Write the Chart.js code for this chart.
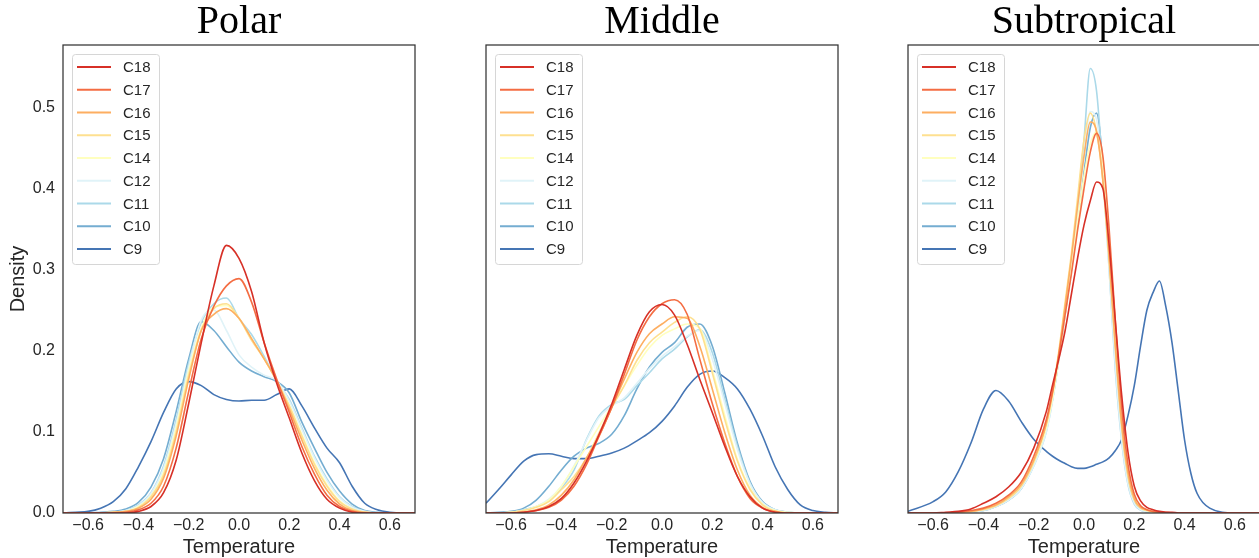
<!DOCTYPE html>
<html>
<head>
<meta charset="utf-8">
<script src="https://cdn.jsdelivr.net/npm/chart.js@4.4.1/dist/chart.umd.min.js"></script>
<style>
  html, body { margin: 0; padding: 0; background: #fff; overflow: hidden; width: 1259px; height: 558px; }
  .panel { position: absolute; top: 0; }
</style>
</head>
<body>
<canvas id="polar" class="panel" width="478" height="558" style="left:0px"></canvas>
<canvas id="middle" class="panel" width="452" height="558" style="left:436px"></canvas>
<canvas id="subtropical" class="panel" width="452" height="558" style="left:858px"></canvas>
<script>
// Series (legend order)
const seriesNames = ['C18', 'C17', 'C16', 'C15', 'C14', 'C12', 'C11', 'C10', 'C9'];
const seriesColors = ['#d73027', '#f46d43', '#fdae61', '#fee090', '#ffffbf', '#e0f3f8', '#abd9e9', '#74add1', '#4575b4'];

// Tick labels
const xTicks = [-0.6, -0.4, -0.2, 0.0, 0.2, 0.4, 0.6];
const yTicks = [0.0, 0.1, 0.2, 0.3, 0.4, 0.5];
const yMax = 0.577;

// Polar densities
const polarX = [-0.7,-0.65,-0.6,-0.55,-0.5,-0.45,-0.4,-0.35,-0.3,-0.25,-0.2,-0.15,-0.1,-0.05,0,0.05,0.1,0.15,0.2,0.25,0.3,0.35,0.4,0.45,0.5,0.55,0.6,0.65,0.7];
const polarVals = [
    [0,0,0,0,0,0,0.002,0.008,0.025,0.065,0.135,0.21,0.28,0.33,0.314,0.273,0.21,0.16,0.117,0.074,0.04,0.017,0.006,0.001,0,0,0,0,0],
    [0,0,0,0,0,0.001,0.004,0.012,0.033,0.08,0.15,0.215,0.255,0.28,0.289,0.26,0.21,0.165,0.124,0.082,0.048,0.022,0.008,0.002,0,0,0,0,0],
    [0,0,0,0,0.001,0.002,0.006,0.017,0.043,0.095,0.165,0.225,0.245,0.252,0.24,0.215,0.19,0.163,0.128,0.09,0.055,0.028,0.011,0.003,0.001,0,0,0,0],
    [0,0,0,0,0.001,0.002,0.007,0.02,0.047,0.1,0.17,0.225,0.252,0.258,0.24,0.213,0.19,0.163,0.132,0.095,0.06,0.033,0.014,0.005,0.001,0,0,0,0],
    [0,0,0,0,0.001,0.002,0.008,0.021,0.05,0.105,0.175,0.228,0.254,0.256,0.24,0.215,0.19,0.163,0.133,0.097,0.062,0.035,0.015,0.005,0.001,0,0,0,0],
    [0,0,0,0,0.001,0.003,0.009,0.024,0.055,0.11,0.18,0.238,0.25,0.225,0.195,0.18,0.17,0.163,0.138,0.103,0.068,0.04,0.019,0.007,0.002,0,0,0,0],
    [0,0,0,0,0.001,0.003,0.01,0.025,0.058,0.115,0.185,0.235,0.258,0.265,0.24,0.22,0.193,0.163,0.14,0.105,0.07,0.042,0.02,0.008,0.002,0,0,0,0],
    [0,0,0,0.001,0.002,0.005,0.013,0.032,0.067,0.125,0.19,0.236,0.225,0.205,0.186,0.175,0.168,0.162,0.148,0.112,0.08,0.05,0.027,0.011,0.003,0.001,0,0,0],
    [0,0.001,0.002,0.006,0.014,0.03,0.057,0.088,0.124,0.153,0.162,0.157,0.146,0.14,0.138,0.139,0.139,0.146,0.153,0.132,0.105,0.08,0.062,0.033,0.012,0.004,0.001,0,0]
];

// Middle densities
const middleX = [-0.7,-0.65,-0.6,-0.55,-0.5,-0.45,-0.4,-0.35,-0.3,-0.25,-0.2,-0.15,-0.1,-0.05,0,0.05,0.1,0.15,0.2,0.25,0.3,0.35,0.4,0.45,0.5,0.55,0.6,0.65,0.7];
const middleVals = [
    [0,0,0,0.001,0.003,0.008,0.018,0.037,0.064,0.097,0.134,0.177,0.219,0.248,0.257,0.244,0.208,0.165,0.124,0.082,0.045,0.02,0.006,0.001,0,0,0,0,0],
    [0,0,0,0.001,0.003,0.007,0.016,0.033,0.06,0.095,0.13,0.171,0.213,0.242,0.258,0.263,0.245,0.19,0.135,0.086,0.045,0.018,0.006,0.001,0,0,0,0,0],
    [0,0,0,0.001,0.004,0.01,0.022,0.041,0.068,0.095,0.13,0.165,0.198,0.221,0.233,0.242,0.24,0.206,0.153,0.099,0.053,0.022,0.007,0.002,0,0,0,0,0],
    [0,0,0.001,0.003,0.007,0.014,0.029,0.045,0.068,0.099,0.13,0.157,0.188,0.21,0.223,0.235,0.242,0.227,0.173,0.115,0.064,0.029,0.01,0.002,0,0,0,0,0],
    [0,0,0.001,0.003,0.008,0.016,0.033,0.057,0.082,0.107,0.132,0.157,0.182,0.204,0.219,0.227,0.233,0.228,0.177,0.12,0.066,0.031,0.011,0.003,0.001,0,0,0,0],
    [0,0,0.001,0.003,0.008,0.017,0.033,0.058,0.09,0.118,0.132,0.142,0.16,0.178,0.193,0.205,0.218,0.225,0.19,0.135,0.078,0.036,0.013,0.004,0.001,0,0,0,0],
    [0,0,0.001,0.004,0.008,0.016,0.031,0.053,0.091,0.12,0.134,0.14,0.157,0.173,0.19,0.202,0.217,0.226,0.198,0.14,0.082,0.037,0.013,0.004,0.001,0,0,0,0],
    [0,0.001,0.002,0.006,0.016,0.033,0.053,0.07,0.08,0.086,0.097,0.12,0.153,0.18,0.198,0.21,0.229,0.233,0.206,0.148,0.086,0.039,0.014,0.004,0.001,0,0,0,0],
    [0.012,0.029,0.047,0.064,0.072,0.073,0.07,0.067,0.067,0.07,0.074,0.08,0.089,0.099,0.113,0.132,0.155,0.171,0.175,0.167,0.153,0.128,0.095,0.057,0.029,0.01,0.003,0.001,0]
];

// Subtropical densities (finer steps round the narrow peaks)
const subtropicalX = [-0.7,-0.6,-0.55,-0.5,-0.45,-0.4,-0.35,-0.3,-0.25,-0.2,-0.15,-0.125,-0.1,-0.075,-0.05,-0.025,0,0.025,0.05,0.075,0.1,0.125,0.15,0.175,0.2,0.225,0.25,0.275,0.3,0.325,0.35,0.375,0.4,0.425,0.45,0.5,0.6,0.7];
const subtropicalVals = [
    [0,0,0.001,0.002,0.005,0.012,0.02,0.032,0.05,0.08,0.125,0.158,0.19,0.225,0.27,0.315,0.355,0.385,0.408,0.4,0.33,0.235,0.145,0.075,0.033,0.015,0.007,0.004,0.002,0.001,0.001,0,0,0,0,0,0,0],
    [0,0,0,0.001,0.003,0.006,0.012,0.022,0.038,0.07,0.115,0.15,0.195,0.245,0.295,0.35,0.4,0.445,0.468,0.44,0.35,0.235,0.13,0.06,0.023,0.009,0.004,0.002,0.001,0.001,0,0,0,0,0,0,0,0],
    [0,0,0,0.001,0.002,0.005,0.01,0.02,0.035,0.065,0.11,0.148,0.197,0.255,0.315,0.38,0.44,0.482,0.47,0.41,0.315,0.205,0.11,0.05,0.018,0.007,0.004,0.002,0.001,0,0,0,0,0,0,0,0,0],
    [0,0,0,0.001,0.002,0.004,0.009,0.018,0.033,0.063,0.11,0.15,0.2,0.26,0.32,0.39,0.46,0.493,0.47,0.41,0.31,0.2,0.105,0.045,0.016,0.006,0.003,0.001,0,0,0,0,0,0,0,0,0,0],
    [0,0,0,0.001,0.002,0.005,0.01,0.02,0.034,0.062,0.105,0.142,0.19,0.245,0.3,0.36,0.415,0.455,0.47,0.43,0.33,0.21,0.11,0.05,0.018,0.007,0.003,0.001,0,0,0,0,0,0,0,0,0,0],
    [0,0,0,0,0.001,0.003,0.008,0.016,0.03,0.058,0.1,0.138,0.19,0.248,0.305,0.37,0.44,0.495,0.485,0.41,0.3,0.18,0.09,0.036,0.012,0.004,0.002,0.001,0,0,0,0,0,0,0,0,0,0],
    [0,0,0,0,0.001,0.003,0.008,0.016,0.03,0.058,0.1,0.14,0.195,0.25,0.31,0.38,0.46,0.548,0.52,0.42,0.3,0.175,0.088,0.035,0.011,0.004,0.001,0,0,0,0,0,0,0,0,0,0,0],
    [0,0,0,0,0.001,0.003,0.008,0.016,0.03,0.06,0.105,0.14,0.19,0.245,0.3,0.36,0.42,0.475,0.493,0.43,0.315,0.19,0.095,0.04,0.013,0.004,0.002,0.001,0,0,0,0,0,0,0,0,0,0],
    [0.002,0.014,0.026,0.051,0.086,0.128,0.151,0.138,0.113,0.091,0.076,0.07,0.065,0.061,0.057,0.055,0.055,0.057,0.06,0.063,0.068,0.077,0.091,0.12,0.157,0.206,0.25,0.272,0.286,0.255,0.21,0.15,0.09,0.049,0.024,0.006,0,0]
];

const ink = '#262626';
const sans = '"Liberation Sans", Arial, sans-serif';
const serif = '"Liberation Serif", "Times New Roman", serif';

// matplotlib style labels with a real minus sign
function fmt(v) {
    const s = Math.abs(v).toFixed(1);
    return v < 0 ? '\u2212' + s : s;
}

// Dark frame round the plot area
const framePlugin = {
    id: 'frame',
    afterDatasetsDraw(chart) {
        const a = chart.chartArea, c = chart.ctx;
        c.save();
        c.strokeStyle = '#333';
        c.lineWidth = 1.25;
        c.strokeRect(a.left, a.top, a.right - a.left, a.bottom - a.top);
        c.restore();
    }
};

// Legend box inside the plot, upper left
const legendPlugin = {
    id: 'boxLegend',
    afterDraw(chart) {
        const a = chart.chartArea, c = chart.ctx;
        const x0 = a.left + 9, y0 = a.top + 9, w = 87, h = 210;
        c.save();
        c.beginPath();
        c.roundRect(x0 + 0.5, y0 + 0.5, w, h, 3);
        c.fillStyle = 'rgba(255,255,255,0.8)';
        c.fill();
        c.strokeStyle = '#d6d6d6';
        c.lineWidth = 1;
        c.stroke();
        c.font = '15px ' + sans;
        c.textBaseline = 'middle';
        c.textAlign = 'left';
        chart.data.datasets.forEach((ds, i) => {
            const y = y0 + 13 + i * 22.75;
            c.strokeStyle = ds.borderColor;
            c.lineWidth = 2;
            c.beginPath();
            c.moveTo(x0 + 5, y);
            c.lineTo(x0 + 39, y);
            c.stroke();
            c.fillStyle = ink;
            c.fillText(ds.label, x0 + 51, y + 1);
        });
        c.restore();
    }
};

function makeChart(id, title, xs, vals, sideWidth, showY) {
    const datasets = seriesNames.map((name, i) => ({
        label: name,
        data: xs.map((x, j) => ({ x: x, y: vals[i][j] })),
        borderColor: seriesColors[i],
        borderWidth: 1.6,
        pointRadius: 0,
        cubicInterpolationMode: 'monotone',
        fill: false
    }));

    return new Chart(document.getElementById(id), {
        type: 'line',
        data: { datasets },
        options: {
            responsive: false,
            animation: false,
            devicePixelRatio: 1,
            layout: { padding: 0 },
            plugins: {
                legend: { display: false },
                tooltip: { enabled: false },
                title: {
                    display: true,
                    text: title,
                    color: '#000',
                    font: { family: serif, size: 40, weight: 'normal', lineHeight: 1 },
                    padding: { top: 2, bottom: 3 }
                }
            },
            scales: {
                x: {
                    type: 'linear',
                    min: -0.7,
                    max: 0.7,
                    grid: { display: false, drawTicks: false },
                    border: { display: false },
                    afterBuildTicks: s => { s.ticks = xTicks.map(v => ({ value: v })); },
                    afterFit: s => { s.height = 45; },
                    ticks: {
                        color: ink,
                        font: { family: sans, size: 16 },
                        padding: 3,
                        autoSkip: false,
                        maxRotation: 0,
                        callback: v => fmt(v)
                    },
                    title: {
                        display: true,
                        text: 'Temperature',
                        color: ink,
                        font: { family: sans, size: 20 },
                        padding: { top: 0, bottom: -1 }
                    }
                },
                y: {
                    type: 'linear',
                    position: 'left',
                    min: 0,
                    max: yMax,
                    grid: { display: false, drawTicks: false },
                    border: { display: false },
                    afterBuildTicks: s => { s.ticks = yTicks.map(v => ({ value: v })); },
                    afterFit: s => { s.width = sideWidth; },
                    ticks: {
                        display: showY,
                        color: ink,
                        font: { family: sans, size: 16 },
                        padding: 8,
                        callback: v => fmt(v)
                    },
                    title: {
                        display: showY,
                        text: 'Density',
                        color: ink,
                        font: { family: sans, size: 20 },
                        padding: { top: 6, bottom: 0 }
                    }
                },
                // empty axis that keeps the plot centred under its title
                yRight: {
                    type: 'linear',
                    position: 'right',
                    grid: { display: false, drawTicks: false },
                    border: { display: false },
                    ticks: { display: false },
                    afterFit: s => { s.width = sideWidth; }
                }
            }
        },
        plugins: [framePlugin, legendPlugin]
    });
}

makeChart('polar', 'Polar', polarX, polarVals, 63, true);
makeChart('middle', 'Middle', middleX, middleVals, 50, false);
makeChart('subtropical', 'Subtropical', subtropicalX, subtropicalVals, 50, false);
</script>
</body>
</html>
